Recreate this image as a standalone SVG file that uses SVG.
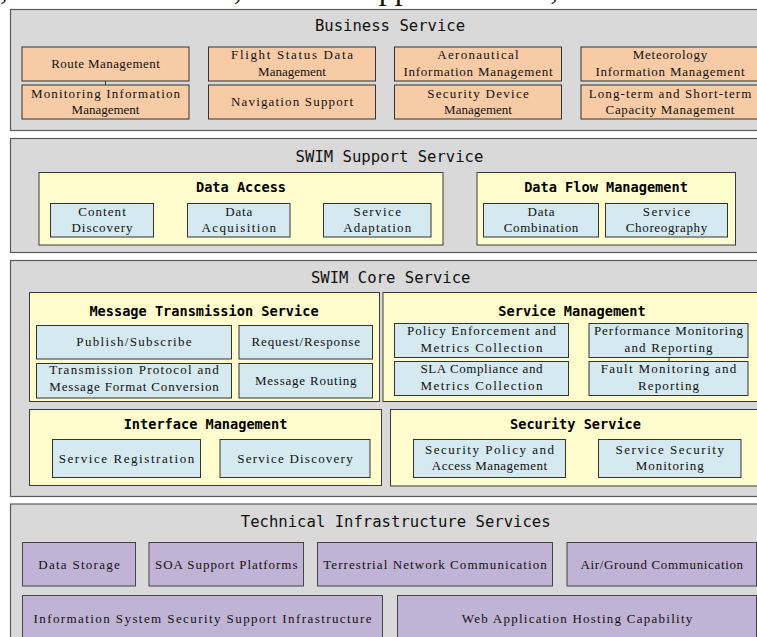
<svg xmlns="http://www.w3.org/2000/svg" width="757" height="637" viewBox="0 0 757 637">
<style>
.panel{fill:#d9d9d9;stroke:#5a5a5a;stroke-width:1.2}
.sub{fill:#fffdcd;stroke:#3a3a3a;stroke-width:1}
.or{fill:#f8cba7;stroke:#333;stroke-width:1}
.bl{fill:#d5e9f0;stroke:#333;stroke-width:1}
.pu{fill:#c1b3d6;stroke:#444;stroke-width:1}
.pt{font-family:"DejaVu Sans Mono","Liberation Mono",monospace;font-size:15.6px;fill:#111;text-anchor:middle}
.st{font-family:"DejaVu Sans Mono","Liberation Mono",monospace;font-size:13.6px;font-weight:bold;fill:#000;text-anchor:middle}
.bt{font-family:"Liberation Serif","DejaVu Serif",serif;font-size:13px;fill:#111;text-anchor:middle}
.cn{stroke:#333;stroke-width:1;fill:none}
.top{font-family:"Liberation Serif",serif;font-size:32px;fill:#111}
</style>
<text class="top" x="0" y="-1">, Business Service, SWIM Support Service, and Technical</text>

<g id="business-service">
<rect class="panel" x="10.5" y="9.5" width="760" height="121"/>
<text class="pt" x="390" y="31">Business Service</text>
<g id="route-management"><rect class="or" x="22" y="47" width="167" height="34"/><text class="bt" x="105.5" y="67.5" textLength="108.5">Route Management</text></g>
<g id="flight-status"><rect class="or" x="208.5" y="47" width="167" height="34"/><text class="bt" x="292" y="59" textLength="122">Flight Status Data</text><text class="bt" x="292" y="75.5" textLength="67.8">Management</text></g>
<g id="aeronautical"><rect class="or" x="394.5" y="47" width="167" height="34"/><text class="bt" x="478" y="59" textLength="81.4">Aeronautical</text><text class="bt" x="478" y="75.5" textLength="149.2">Information Management</text></g>
<g id="meteorology"><rect class="or" x="581" y="47" width="178" height="34"/><text class="bt" x="670" y="59" textLength="74.6">Meteorology</text><text class="bt" x="670" y="75.5" textLength="149.2">Information Management</text></g>
<g id="monitoring-info"><rect class="or" x="22" y="85" width="167" height="34"/><text class="bt" x="105.5" y="98" textLength="149.2">Monitoring Information</text><text class="bt" x="105.5" y="114" textLength="67.8">Management</text></g>
<g id="navigation-support"><rect class="or" x="208.5" y="85" width="167" height="34"/><text class="bt" x="292" y="106" textLength="122">Navigation Support</text></g>
<g id="security-device"><rect class="or" x="394.5" y="85" width="167" height="34"/><text class="bt" x="478" y="98" textLength="101.7">Security Device</text><text class="bt" x="478" y="114" textLength="67.8">Management</text></g>
<g id="capacity"><rect class="or" x="581" y="85" width="178" height="34"/><text class="bt" x="670" y="98" textLength="162.7">Long-term and Short-term</text><text class="bt" x="670" y="114" textLength="128.8">Capacity Management</text></g>
</g>

<g id="swim-support-service">
<rect class="panel" x="10.5" y="138.5" width="760" height="114"/>
<text class="pt" x="389.5" y="161.5">SWIM Support Service</text>
<g id="data-access">
<rect class="sub" x="39" y="172.5" width="404" height="72.5"/>
<text class="st" x="241" y="192">Data Access</text>
<g id="content-discovery"><rect class="bl" x="50.5" y="203.5" width="103" height="33.5"/><text class="bt" x="102" y="216" textLength="47.5">Content</text><text class="bt" x="102" y="232" textLength="61">Discovery</text></g>
<g id="data-acquisition"><rect class="bl" x="187.5" y="203.5" width="102.5" height="33.5"/><text class="bt" x="238.75" y="216" textLength="27.1">Data</text><text class="bt" x="238.75" y="232" textLength="74.6">Acquisition</text></g>
<g id="service-adaptation"><rect class="bl" x="323.5" y="203.5" width="107.5" height="33.5"/><text class="bt" x="377.25" y="216" textLength="47.5">Service</text><text class="bt" x="377.25" y="232" textLength="67.8">Adaptation</text></g>
</g>
<g id="data-flow-management">
<rect class="sub" x="477" y="172.5" width="258.5" height="72.5"/>
<text class="st" x="606" y="192">Data Flow Management</text>
<g id="data-combination"><rect class="bl" x="483.5" y="203.5" width="115" height="33.5"/><text class="bt" x="541" y="216" textLength="27.1">Data</text><text class="bt" x="541" y="232" textLength="74.6">Combination</text></g>
<g id="service-choreography"><rect class="bl" x="605.5" y="203.5" width="122" height="33.5"/><text class="bt" x="666.5" y="216" textLength="47.5">Service</text><text class="bt" x="666.5" y="232" textLength="81.4">Choreography</text></g>
</g>
</g>

<g id="swim-core-service">
<rect class="panel" x="10.5" y="260.5" width="760" height="236"/>
<text class="pt" x="390.7" y="283">SWIM Core Service</text>
<g id="message-transmission">
<rect class="sub" x="29.5" y="292.5" width="350" height="109"/>
<text class="st" x="204" y="316">Message Transmission Service</text>
<g id="publish-subscribe"><rect class="bl" x="36.5" y="325.5" width="195" height="33.5"/><text class="bt" x="134" y="345.5" textLength="115.3">Publish/Subscribe</text></g>
<g id="request-response"><rect class="bl" x="239" y="325.5" width="133.5" height="33.5"/><text class="bt" x="305.75" y="345.5" textLength="108.5">Request/Response</text></g>
<g id="protocol-conversion"><rect class="bl" x="36.5" y="363.5" width="195" height="34.5"/><text class="bt" x="134" y="374" textLength="169.5">Transmission Protocol and</text><text class="bt" x="134" y="390.5" textLength="169.5">Message Format Conversion</text></g>
<g id="message-routing"><rect class="bl" x="239" y="363.5" width="133.5" height="34.5"/><text class="bt" x="305.75" y="385" textLength="101.7">Message Routing</text></g>
</g>
<g id="service-management">
<rect class="sub" x="383" y="292.5" width="387" height="109"/>
<text class="st" x="572" y="316">Service Management</text>
<g id="policy-enforcement"><rect class="bl" x="394.5" y="323.5" width="174" height="34"/><text class="bt" x="481.5" y="335" textLength="149.2">Policy Enforcement and</text><text class="bt" x="481.5" y="351.5" textLength="122">Metrics Collection</text></g>
<g id="performance-monitoring"><rect class="bl" x="589" y="323.5" width="159" height="34"/><text class="bt" x="668.5" y="335" textLength="149.2">Performance Monitoring</text><text class="bt" x="668.5" y="351.5" textLength="88.1">and Reporting</text></g>
<g id="sla-compliance"><rect class="bl" x="394.5" y="361.5" width="174" height="34"/><text class="bt" x="481.5" y="373" textLength="122">SLA Compliance and</text><text class="bt" x="481.5" y="389.5" textLength="122">Metrics Collection</text></g>
<g id="fault-monitoring"><rect class="bl" x="589" y="361.5" width="159" height="34"/><text class="bt" x="668.5" y="373" textLength="135.6">Fault Monitoring and</text><text class="bt" x="668.5" y="389.5" textLength="61">Reporting</text></g>
</g>
<g id="interface-management">
<rect class="sub" x="29.5" y="409.5" width="352" height="76"/>
<text class="st" x="205.5" y="428.5">Interface Management</text>
<g id="service-registration"><rect class="bl" x="52.5" y="439.5" width="148" height="38"/><text class="bt" x="126.5" y="462.5" textLength="135.6">Service Registration</text></g>
<g id="service-discovery"><rect class="bl" x="220" y="439.5" width="150" height="38"/><text class="bt" x="295" y="462.5" textLength="115.3">Service Discovery</text></g>
</g>
<g id="security-service">
<rect class="sub" x="390.5" y="409.5" width="380" height="76.5"/>
<text class="st" x="575.5" y="428.5">Security Service</text>
<g id="security-policy"><rect class="bl" x="413.5" y="439.5" width="152" height="38"/><text class="bt" x="489.5" y="454" textLength="128.8">Security Policy and</text><text class="bt" x="489.5" y="470" textLength="115.3">Access Management</text></g>
<g id="service-security-monitoring"><rect class="bl" x="598.5" y="439.5" width="142.5" height="38"/><text class="bt" x="669.75" y="454" textLength="108.5">Service Security</text><text class="bt" x="669.75" y="470" textLength="67.8">Monitoring</text></g>
</g>
</g>

<g id="technical-infrastructure">
<rect class="panel" x="10.5" y="504" width="760" height="150"/>
<text class="pt" x="395.7" y="526.5">Technical Infrastructure Services</text>
<g id="data-storage"><rect class="pu" x="22.5" y="542.5" width="113" height="43.5"/><text class="bt" x="79" y="568.5" textLength="81.4">Data Storage</text></g>
<g id="soa-support"><rect class="pu" x="149" y="542.5" width="154.5" height="43.5"/><text class="bt" x="226.25" y="568.5" textLength="142.4">SOA Support Platforms</text></g>
<g id="terrestrial-network"><rect class="pu" x="317.5" y="542.5" width="235" height="43.5"/><text class="bt" x="435" y="568.5" textLength="223.7">Terrestrial Network Communication</text></g>
<g id="air-ground"><rect class="pu" x="567" y="542.5" width="189.5" height="43.5"/><text class="bt" x="661.75" y="568.5" textLength="162.7">Air/Ground Communication</text></g>
<g id="info-security-infra"><rect class="pu" x="22.5" y="595.5" width="360" height="60"/><text class="bt" x="202.5" y="622.5" textLength="338">Information System Security Support Infrastructure</text></g>
<g id="web-hosting"><rect class="pu" x="397.5" y="595.5" width="359" height="60"/><text class="bt" x="577" y="622.5" textLength="230.5">Web Application Hosting Capability</text></g>
</g>

<g id="connectors">
<line class="cn" x1="105.5" y1="81" x2="105.5" y2="85"/>
<line class="cn" x1="669" y1="357.5" x2="669" y2="361.5"/>
</g>
</svg>
